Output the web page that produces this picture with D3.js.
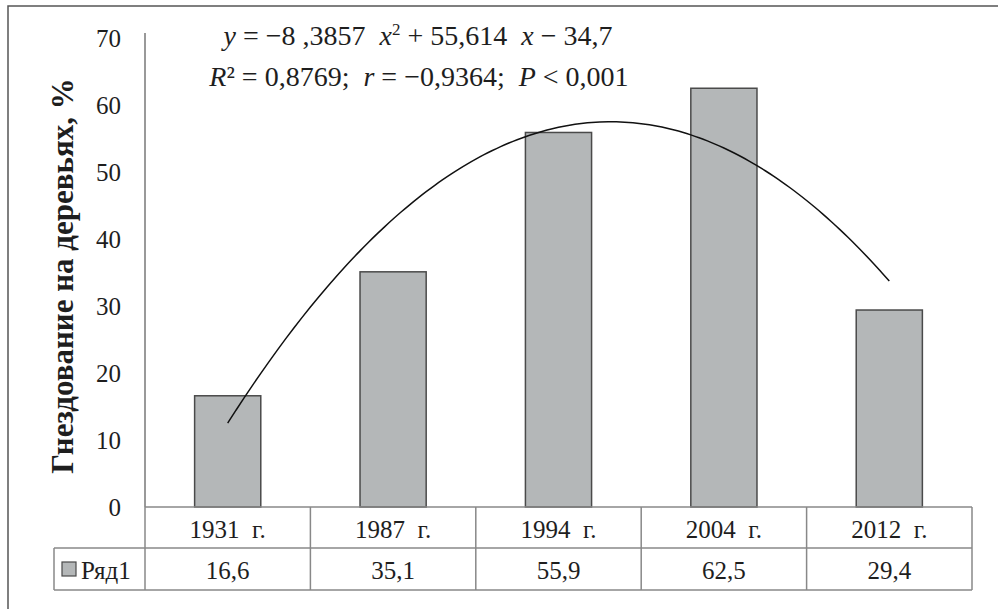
<!DOCTYPE html>
<html>
<head>
<meta charset="utf-8">
<script src="https://cdn.jsdelivr.net/npm/d3@7"></script>
<style>
  body { margin: 0; background: #fff; }
  svg text { font-family: 'Liberation Serif', 'DejaVu Serif', serif; fill: #1e1e1e; }
</style>
</head>
<body>
<svg id="chart" width="998" height="609"></svg>
<script>
// data
const years = ['1931  г.', '1987  г.', '1994  г.', '2004  г.', '2012  г.'];
const values = [16.6, 35.1, 55.9, 62.5, 29.4];
const valueLabels = ['16,6', '35,1', '55,9', '62,5', '29,4'];
const yTicks = [0, 10, 20, 30, 40, 50, 60, 70];
const seriesName = 'Ряд1';
// trend coefficients from the chart: y = a x^2 + b x + c
const trendCoef = [-8.3857, 55.614, -34.7];

const FONT = "'Liberation Serif', 'DejaVu Serif', serif";
const svg = d3.select('#chart');

// outer frame (only top and left are inside the picture)
svg.append('rect')
  .attr('x', 8).attr('y', 6)
  .attr('width', 1100).attr('height', 700)
  .attr('fill', 'none').attr('stroke', '#555').attr('stroke-width', 1.5);

const plotLeft = 145, plotRight = 972;
const y0 = 507, yTop = 38;

const x = d3.scaleBand().domain(years).range([plotLeft, plotRight])
  .paddingInner(0.6).paddingOuter(0.3);
const xCell = d3.scaleBand().domain(years).range([plotLeft, plotRight]);
const y = d3.scaleLinear().domain([0, 70]).range([y0, yTop]);

// y axis
const yAxis = d3.axisLeft(y).tickValues(yTicks).tickSize(0).tickPadding(24);
const ag = svg.append('g').attr('transform', `translate(${plotLeft},0)`).call(yAxis)
  .attr('font-family', FONT);
ag.select('.domain').remove();
ag.selectAll('.tick text')
  .attr('font-size', 25)
  .attr('fill', '#1e1e1e');
svg.append('line')
  .attr('x1', plotLeft).attr('x2', plotLeft)
  .attr('y1', 33).attr('y2', y0)
  .attr('stroke', '#777').attr('stroke-width', 1.5);

// y title
svg.append('text')
  .attr('transform', 'translate(73,276) rotate(-90)')
  .attr('text-anchor', 'middle')
  .attr('font-family', FONT)
  .attr('font-size', 31).attr('font-weight', 'bold')
  .text('Гнездование на деревьях, %');

// bars
svg.append('g').selectAll('rect').data(values).join('rect')
  .attr('x', (d, i) => x(years[i]))
  .attr('y', d => y(d))
  .attr('width', x.bandwidth())
  .attr('height', d => y0 - y(d))
  .attr('fill', '#b4b7b8')
  .attr('stroke', '#4a4a4a')
  .attr('stroke-width', 1.5);

// trend line
const xi = d3.scaleLinear().domain([1, 5])
  .range([x(years[0]) + x.bandwidth() / 2, x(years[4]) + x.bandwidth() / 2]);
const trend = d3.range(1, 5.001, 0.05).map(t => [t, trendCoef[0] * t * t + trendCoef[1] * t + trendCoef[2]]);
svg.append('path')
  .datum(trend)
  .attr('fill', 'none').attr('stroke', '#111').attr('stroke-width', 1.5)
  .attr('d', d3.line().x(d => xi(d[0])).y(d => y(d[1])).curve(d3.curveBasis));

// equation
const eq1 = svg.append('text').attr('x', 418).attr('y', 45)
  .attr('text-anchor', 'middle').attr('font-size', 28).attr('font-family', FONT)
  .style('white-space', 'pre');
eq1.append('tspan').attr('font-style', 'italic').text('y');
eq1.append('tspan').text(' = −8 ,3857  ');
eq1.append('tspan').attr('font-style', 'italic').text('x');
eq1.append('tspan').attr('font-size', 17).attr('dy', -10).text('2');
eq1.append('tspan').attr('dy', 10).text(' + 55,614  ');
eq1.append('tspan').attr('font-style', 'italic').text('x');
eq1.append('tspan').text(' − 34,7');

const eq2 = svg.append('text').attr('x', 419).attr('y', 86)
  .attr('text-anchor', 'middle').attr('font-size', 28).attr('font-family', FONT)
  .style('white-space', 'pre');
eq2.append('tspan').attr('font-style', 'italic').text('R');
eq2.append('tspan').text('² = 0,8769;  ');
eq2.append('tspan').attr('font-style', 'italic').text('r');
eq2.append('tspan').text(' = −0,9364;  ');
eq2.append('tspan').attr('font-style', 'italic').text('P');
eq2.append('tspan').text(' < 0,001');

// data table
const row1 = [507, 548], row2 = [548, 590];
const tbl = svg.append('g').attr('stroke', '#888').attr('stroke-width', 1.5).attr('fill', 'none');
tbl.append('line').attr('x1', plotLeft).attr('x2', plotRight).attr('y1', row1[0]).attr('y2', row1[0]);
tbl.append('line').attr('x1', 54).attr('x2', plotRight).attr('y1', row2[0]).attr('y2', row2[0]);
tbl.append('line').attr('x1', 54).attr('x2', plotRight).attr('y1', row2[1]).attr('y2', row2[1]);
tbl.append('line').attr('x1', 54).attr('x2', 54).attr('y1', row2[0]).attr('y2', row2[1]);
tbl.selectAll('.col').data(years.concat(['end'])).join('line')
  .attr('x1', (d, i) => plotLeft + i * xCell.step())
  .attr('x2', (d, i) => plotLeft + i * xCell.step())
  .attr('y1', row1[0]).attr('y2', row2[1]);

svg.append('g').selectAll('text').data(years).join('text')
  .attr('x', d => xCell(d) + xCell.bandwidth() / 2)
  .attr('y', 538)
  .attr('text-anchor', 'middle').attr('font-size', 25).attr('font-family', FONT)
  .style('white-space', 'pre')
  .text(d => d);
svg.append('g').selectAll('text').data(valueLabels).join('text')
  .attr('x', (d, i) => xCell(years[i]) + xCell.bandwidth() / 2)
  .attr('y', 579)
  .attr('text-anchor', 'middle').attr('font-size', 25).attr('font-family', FONT)
  .text(d => d);

// legend
svg.append('rect').attr('x', 62).attr('y', 562).attr('width', 14).attr('height', 14)
  .attr('fill', '#b4b7b8').attr('stroke', '#4a4a4a').attr('stroke-width', 1.2);
svg.append('text').attr('x', 81).attr('y', 579).attr('font-size', 25).attr('font-family', FONT).text(seriesName);
</script>
</body>
</html>
